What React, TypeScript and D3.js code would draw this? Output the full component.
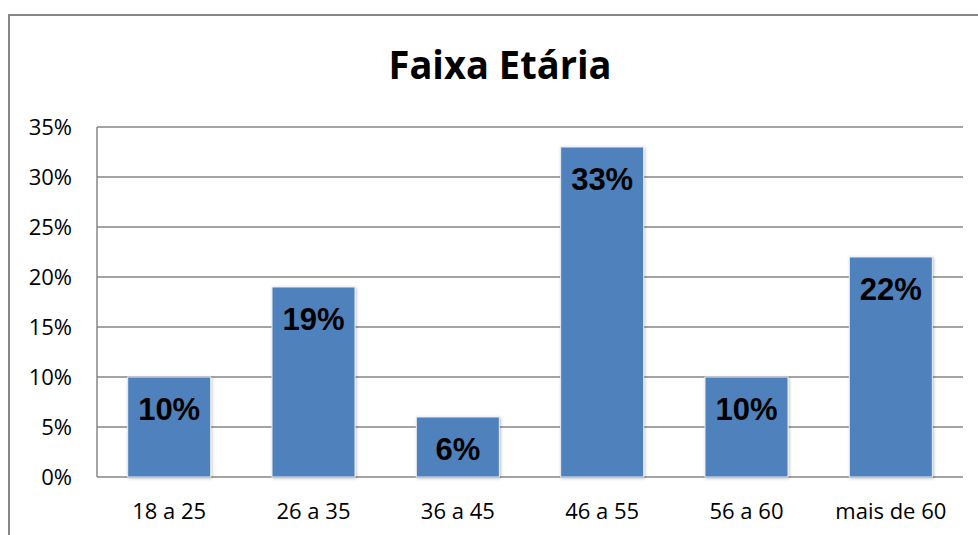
import { useEffect, useRef } from "react";
import * as d3 from "d3";

// Age group share (fraction of respondents)
const categories = ["18 a 25", "26 a 35", "36 a 45", "46 a 55", "56 a 60", "mais de 60"];
const values = [0.1, 0.19, 0.06, 0.33, 0.1, 0.22];
const yTicks = [0, 0.05, 0.1, 0.15, 0.2, 0.25, 0.3, 0.35];
const title = "Faixa Etária";

const WIDTH = 978;
const HEIGHT = 535;

export default function App() {
  const svgRef = useRef<SVGSVGElement>(null);

  useEffect(() => {
    if (!svgRef.current) return;
    const svg = d3.select(svgRef.current);
    svg.selectAll("*").remove();

    // Plot area (page coordinates)
    const plotLeft = 97;
    const plotRight = 963;
    const plotTop = 127;
    const plotBottom = 477;
    const gridColor = "#868686";
    const labelFont = "'Open Sans', 'DejaVu Sans', sans-serif";

    const x = d3
      .scaleBand<string>()
      .domain(categories)
      .range([plotLeft, plotRight])
      .paddingInner(0.425)
      .paddingOuter(0.2125);

    const y = d3.scaleLinear().domain([0, 0.35]).range([plotBottom, plotTop]);

    // Drop shadow for bars
    const defs = svg.append("defs");
    defs
      .append("filter")
      .attr("id", "barShadow")
      .attr("x", "-10%")
      .attr("y", "-10%")
      .attr("width", "130%")
      .attr("height", "130%")
      .append("feDropShadow")
      .attr("dx", 1)
      .attr("dy", 1)
      .attr("stdDeviation", 1.5)
      .attr("flood-color", "#000")
      .attr("flood-opacity", 0.25);

    // Outer chart frame (runs off the right and bottom of the window)
    svg
      .append("rect")
      .attr("x", 9)
      .attr("y", 15)
      .attr("width", 1100)
      .attr("height", 600)
      .attr("fill", "white")
      .attr("stroke", "#878787")
      .attr("stroke-width", 2);

    // Title
    svg
      .append("text")
      .attr("x", 500)
      .attr("y", 79)
      .attr("text-anchor", "middle")
      .attr("font-family", labelFont)
      .attr("font-weight", "bold")
      .attr("font-size", "39px")
      .attr("textLength", 223)
      .attr("lengthAdjust", "spacingAndGlyphs")
      .attr("fill", "#000")
      .text(title);

    // Horizontal gridlines
    svg
      .append("g")
      .selectAll("line")
      .data(yTicks)
      .join("line")
      .attr("x1", plotLeft)
      .attr("x2", plotRight)
      .attr("y1", (d) => Math.round(y(d)))
      .attr("y2", (d) => Math.round(y(d)))
      .attr("stroke", gridColor)
      .attr("stroke-width", 1.5);

    // Left axis line
    svg
      .append("line")
      .attr("x1", plotLeft)
      .attr("x2", plotLeft)
      .attr("y1", plotTop)
      .attr("y2", plotBottom)
      .attr("stroke", gridColor)
      .attr("stroke-width", 1.5);

    // Y tick labels
    svg
      .append("g")
      .selectAll("text")
      .data(yTicks)
      .join("text")
      .attr("x", 72)
      .attr("y", (d) => y(d) + 8)
      .attr("text-anchor", "end")
      .attr("font-family", labelFont)
      .attr("font-size", "22px")
      .attr("fill", "#000")
      .text((d) => d3.format(".0%")(d));

    // Bars
    svg
      .append("g")
      .selectAll("rect")
      .data(values)
      .join("rect")
      .attr("x", (_, i) => x(categories[i]) ?? 0)
      .attr("y", (d) => y(d))
      .attr("width", x.bandwidth())
      .attr("height", (d) => plotBottom - y(d))
      .attr("fill", "#4F81BD")
      .attr("stroke", "#e6ecf5")
      .attr("stroke-width", 1)
      .attr("filter", "url(#barShadow)");

    // Data labels inside top of bars
    svg
      .append("g")
      .selectAll("text")
      .data(values)
      .join("text")
      .attr("x", (_, i) => (x(categories[i]) ?? 0) + x.bandwidth() / 2)
      .attr("y", (d) => y(d) + 43)
      .attr("text-anchor", "middle")
      .attr("font-family", "'Liberation Sans', Arial, sans-serif")
      .attr("font-weight", "bold")
      .attr("font-size", "31px")
      .attr("fill", "#000")
      .text((d) => d3.format(".0%")(d));

    // X category labels
    svg
      .append("g")
      .selectAll("text")
      .data(categories)
      .join("text")
      .attr("x", (d) => (x(d) ?? 0) + x.bandwidth() / 2)
      .attr("y", 519)
      .attr("text-anchor", "middle")
      .attr("font-family", labelFont)
      .attr("font-size", "22px")
      .attr("fill", "#000")
      .text((d) => d);
  }, []);

  return (
    <svg
      ref={svgRef}
      width={WIDTH}
      height={HEIGHT}
      style={{ position: "absolute", left: 0, top: 0, background: "white" }}
    />
  );
}
